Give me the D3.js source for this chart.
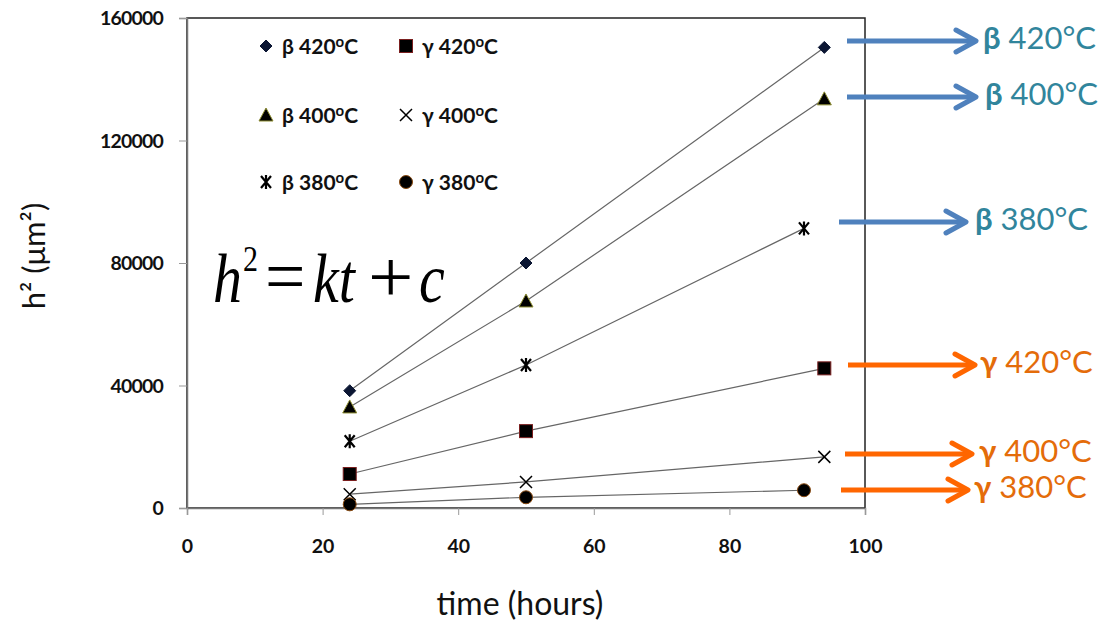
<!DOCTYPE html>
<html>
<head>
<meta charset="utf-8">
<script src="https://cdn.jsdelivr.net/npm/d3@7"></script>
<style>
  body { margin: 0; background: #fff; }
  svg { display: block; font-family: Lato, "Open Sans", sans-serif; }
</style>
</head>
<body>
<div id="chart"></div>
<script>
'use strict';

// time (hours)
var hoursA = [24, 50, 94];
var hoursB = [24, 50, 91];

// h^2 (um^2)
var beta420 = [38300, 80000, 150400];
var beta400 = [33000, 67600, 133600];
var beta380 = [21800, 46700, 91300];
var gamma420 = [11100, 25100, 45600];
var gamma400 = [4500, 8500, 16700];
var gamma380 = [1200, 3500, 5800];

var xTicks = [0, 20, 40, 60, 80, 100];
var yTicks = [0, 40000, 80000, 120000, 160000];

var seriesNames = ['β 420', 'γ 420', 'β 400', 'γ 400', 'β 380', 'γ 380'];
var seriesMarkers = ['diamond', 'square', 'triangle', 'cross', 'star', 'circle'];

// callouts on the right
var calloutPhase = ['β', 'β', 'β', 'γ', 'γ', 'γ'];
var calloutTemp = ['420°C', '400°C', '380°C', '420°C', '400°C', '380°C'];

var series = [
  {name: seriesNames[0], marker: seriesMarkers[0], x: hoursA, y: beta420},
  {name: seriesNames[1], marker: seriesMarkers[1], x: hoursA, y: gamma420},
  {name: seriesNames[2], marker: seriesMarkers[2], x: hoursA, y: beta400},
  {name: seriesNames[3], marker: seriesMarkers[3], x: hoursA, y: gamma400},
  {name: seriesNames[4], marker: seriesMarkers[4], x: hoursB, y: beta380},
  {name: seriesNames[5], marker: seriesMarkers[5], x: hoursB, y: gamma380}
];

var width = 1116, height = 623;
var margin = {top: 18, right: 251, bottom: 115, left: 187};

var svg = d3.select('#chart').append('svg')
  .attr('width', width)
  .attr('height', height);

var xScale = d3.scaleLinear().domain([0, 100]).range([margin.left, width - margin.right]);
var yScale = d3.scaleLinear().domain([0, 160000]).range([height - margin.bottom, margin.top]);

// plot frame
svg.append('rect')
  .attr('x', xScale(0)).attr('y', yScale(160000))
  .attr('width', xScale(100) - xScale(0))
  .attr('height', yScale(0) - yScale(160000))
  .attr('fill', 'none')
  .attr('stroke', '#222')
  .attr('stroke-width', 1.5);

// axes
var yAxis = d3.axisLeft(yScale).tickValues(yTicks).tickSize(8).tickPadding(16).tickFormat(d3.format('d'));
var xAxis = d3.axisBottom(xScale).tickValues(xTicks).tickSize(7).tickPadding(24).tickFormat(d3.format('d'));

var gy = svg.append('g').attr('class', 'y axis')
  .attr('transform', 'translate(' + xScale(0) + ',0)')
  .call(yAxis);
var gx = svg.append('g').attr('class', 'x axis')
  .attr('transform', 'translate(0,' + yScale(0) + ')')
  .call(xAxis);

[gy, gx].forEach(function(g) {
  g.select('.domain').attr('stroke', '#777').attr('stroke-width', 1.5);
  g.selectAll('.tick line').attr('stroke', '#999');
  g.selectAll('.tick text')
    .attr('fill', '#111')
    .style('font-family', 'Lato, sans-serif')
    .style('font-weight', 'bold')
    .style('font-size', '19.5px');
});
gy.selectAll('.tick text').attr('dy', '0.35em').style('letter-spacing', '-0.8px');

// axis titles
svg.append('text')
  .attr('transform', 'translate(45,256) rotate(-90)')
  .attr('text-anchor', 'middle')
  .style('font-size', '31px')
  .attr('fill', '#111')
  .text('h² (μm²)');

svg.append('text')
  .attr('x', 520).attr('y', 615)
  .attr('text-anchor', 'middle')
  .style('font-size', '32px')
  .attr('fill', '#111')
  .text('time (hours)');

// marker shapes
function drawMarker(g, type) {
  if (type === 'diamond') {
    g.append('path').attr('d', 'M0,-6L6,0L0,6L-6,0Z').attr('fill', '#0b1633').attr('stroke', '#0b1633');
  } else if (type === 'square') {
    g.append('rect').attr('x', -6.5).attr('y', -6.5).attr('width', 13).attr('height', 13)
      .attr('fill', '#000').attr('stroke', '#7a1f1f').attr('stroke-width', 1);
  } else if (type === 'triangle') {
    g.append('path').attr('d', 'M0,-7L7,6L-7,6Z').attr('fill', '#000').attr('stroke', '#8c8c30').attr('stroke-width', 1);
  } else if (type === 'cross') {
    g.append('path').attr('d', 'M-6,-6L6,6M-6,6L6,-6').attr('stroke', '#000').attr('stroke-width', 1.5);
  } else if (type === 'star') {
    g.append('path').attr('d', 'M-5,-6L5,6M-5,6L5,-6M0,-7L0,7').attr('stroke', '#000').attr('stroke-width', 2.2);
  } else if (type === 'circle') {
    g.append('circle').attr('r', 6.5).attr('fill', '#000').attr('stroke', '#8a4a10').attr('stroke-width', 1);
  }
}

var line = d3.line()
  .x(function(d) { return xScale(d[0]); })
  .y(function(d) { return yScale(d[1]); });

var sg = svg.append('g').attr('class', 'series')
  .selectAll('g').data(series).enter().append('g');

sg.append('path')
  .attr('d', function(s) { return line(d3.zip(s.x, s.y)); })
  .attr('fill', 'none')
  .attr('stroke', '#666')
  .attr('stroke-width', 1.2);

sg.each(function(s) {
  var g = d3.select(this);
  d3.zip(s.x, s.y).forEach(function(p) {
    var m = g.append('g').attr('transform', 'translate(' + xScale(p[0]) + ',' + yScale(p[1]) + ')');
    drawMarker(m, s.marker);
  });
});

// legend, 3 rows x 2 columns
var legendX = [266, 406], legendY = [46, 115, 182];
var lg = svg.append('g').attr('class', 'legend')
  .selectAll('g').data(series).enter().append('g')
  .attr('transform', function(d, i) {
    return 'translate(' + legendX[i % 2] + ',' + legendY[Math.floor(i / 2)] + ')';
  });
lg.each(function(s) { drawMarker(d3.select(this), s.marker); });
var lt = lg.append('text')
  .attr('x', 16).attr('dy', '0.36em')
  .style('font-size', '21px')
  .style('font-weight', 'bold')
  .attr('fill', '#111');
lt.append('tspan').text(function(s) { return s.name; });
lt.append('tspan').attr('dy', '-0.42em').style('font-size', '15px').text('o');
lt.append('tspan').attr('dy', '0.3em').text('C');

// formula h^2 = kt + c
var fg = svg.append('g')
  .attr('transform', 'translate(0,302) scale(1,1.2)')
  .style('font-family', '"Liberation Serif", "Times New Roman", serif')
  .attr('fill', '#000');
var formula = [
  {t: 'h', x: 213, s: 58, sx: 1, it: true, dy: 0},
  {t: '2', x: 243, s: 30, sx: 1, it: false, dy: -26},
  {t: '=', x: 265, s: 64, sx: 1.12, it: false, dy: 0},
  {t: 'kt', x: 313, s: 58, sx: 1, it: true, dy: 0},
  {t: '+', x: 368, s: 62, sx: 1.3, it: false, dy: 0},
  {t: 'c', x: 419, s: 58, sx: 1, it: true, dy: 0}
];
fg.selectAll('text').data(formula).enter().append('text')
  .attr('transform', function(d) { return 'translate(' + d.x + ',' + d.dy + ') scale(' + d.sx + ',1)'; })
  .style('font-size', function(d) { return d.s + 'px'; })
  .style('font-style', function(d) { return d.it ? 'italic' : 'normal'; })
  .text(function(d) { return d.t; });

// callout arrows and labels
var calloutLayout = [
  {y: 41, x0: 847, x1: 976, tx: 983},
  {y: 97, x0: 847, x1: 976, tx: 985},
  {y: 222, x0: 839, x1: 966, tx: 975},
  {y: 365, x0: 848, x1: 975, tx: 980},
  {y: 454, x0: 845, x1: 972, tx: 979},
  {y: 490, x0: 841, x1: 968, tx: 974}
];
var cg = svg.append('g').attr('class', 'callouts')
  .selectAll('g').data(calloutLayout).enter().append('g');
cg.each(function(c, i) {
  var g = d3.select(this);
  var beta = calloutPhase[i] === 'β';
  var arrowCol = beta ? '#4f81bd' : '#ff6600';
  var textCol = beta ? '#31859c' : '#e46c0a';
  g.append('line')
    .attr('x1', c.x0).attr('x2', c.x1 - 3).attr('y1', c.y).attr('y2', c.y)
    .attr('stroke', arrowCol).attr('stroke-width', 5);
  g.append('path')
    .attr('d', 'M' + (c.x1 - 20) + ',' + (c.y - 11) + 'L' + c.x1 + ',' + c.y + 'L' + (c.x1 - 20) + ',' + (c.y + 11))
    .attr('fill', 'none').attr('stroke', arrowCol).attr('stroke-width', 5)
    .attr('stroke-linecap', 'round').attr('stroke-linejoin', 'round');
  var t = g.append('text')
    .attr('x', c.tx).attr('y', c.y + 8)
    .style('font-size', '31px')
    .attr('fill', textCol);
  t.append('tspan').style('font-weight', 'bold').text(calloutPhase[i]);
  t.append('tspan').style('font-weight', '400').text(' ' + calloutTemp[i]);
});
</script>
</body>
</html>
